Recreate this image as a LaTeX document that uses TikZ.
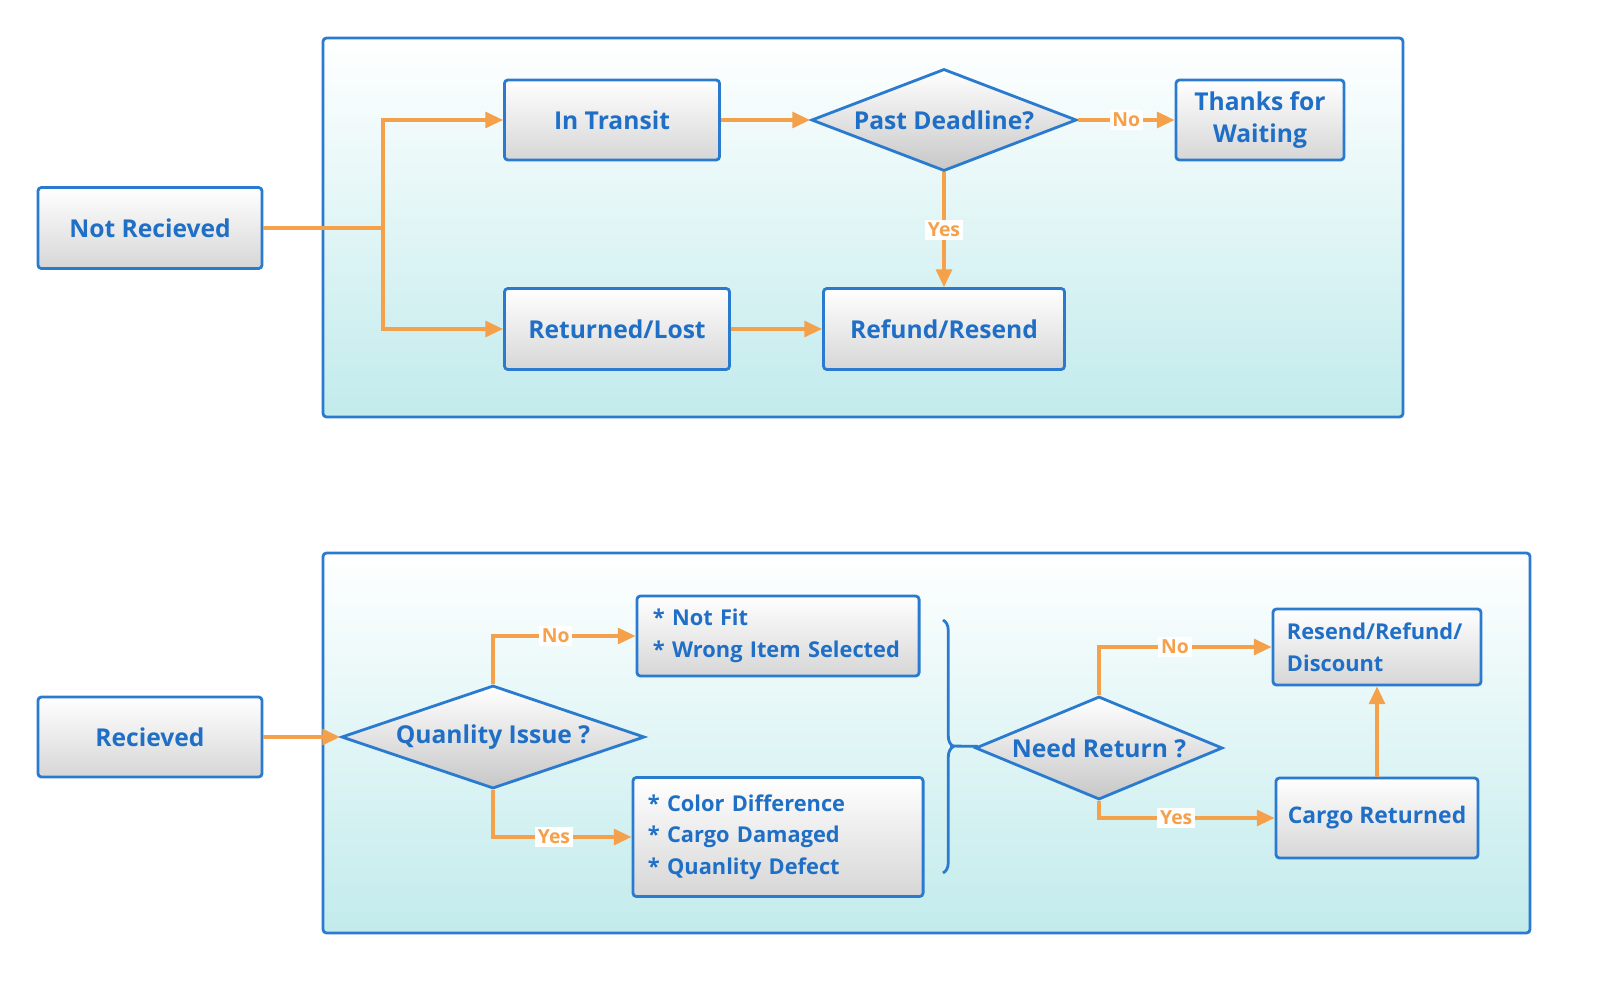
\documentclass[tikz,border=0pt]{standalone}
\usepackage{fontspec}
\setmainfont{Open Sans}
\usetikzlibrary{positioning,shapes.geometric,arrows.meta,decorations.pathreplacing}
\definecolor{txtblue}{HTML}{1F6FC6}
\definecolor{lineblue}{HTML}{2A7BD0}
\definecolor{arrorange}{HTML}{F5A04A}
\definecolor{panelcyan}{HTML}{C2EBEC}
\tikzset{
  panel/.style={draw=lineblue,line width=0.8pt,rounded corners=1pt,top color=white,bottom color=panelcyan},
  box/.style={draw=lineblue,line width=0.8pt,rounded corners=1pt,top color=white,bottom color=black!16,
    text=txtblue,font=\bfseries\fontsize{7}{9}\selectfont,align=center,inner sep=0pt},
  listbox/.style={box,align=left,font=\bfseries\fontsize{6.2}{9}\selectfont},
  decision/.style={diamond,draw=lineblue,line width=0.8pt,top color=white,bottom color=black!22,
    text=txtblue,font=\bfseries\fontsize{7}{9}\selectfont,inner sep=0pt,aspect=2.6},
  flow/.style={arrorange,line width=0.9pt,-{Triangle[length=5pt,width=4.5pt]}},
  lbl/.style={fill=white,text=arrorange,font=\bfseries\fontsize{5.5}{6}\selectfont,inner sep=0.8pt}
}
\begin{document}
\begin{tikzpicture}[x=0.01cm,y=-0.01cm]
  \useasboundingbox (0,0) rectangle (1600,991);
  % panels
  \draw[panel] (323,38) rectangle (1403,417);
  \draw[panel] (323,553) rectangle (1530,933);

  % not received branch
  \node[box,minimum width=2.24cm,minimum height=0.81cm] (notrec) at (150,228) {Not Recieved};
  \node[box,minimum width=2.15cm,minimum height=0.80cm] (transit) at (612,120) {In Transit};
  \node[decision,minimum width=2.65cm,minimum height=1.02cm] (deadline) at (944,120) {Past Deadline?};
  \node[box,minimum width=1.68cm,minimum height=0.80cm] (thanks) at (1260,120) {Thanks for\\Waiting};
  \node[box,minimum width=2.25cm,minimum height=0.81cm] (lost) at (617,329) {Returned/Lost};
  \node[box,minimum width=2.41cm,minimum height=0.81cm] (refund) at (944,329) {Refund/Resend};
  \coordinate (split) at (383,228);

  \draw[arrorange,line width=0.9pt] (notrec) -- (split);
  \draw[flow] (split) |- (transit);
  \draw[flow] (split) |- (lost);
  \draw[flow] (transit) -- (deadline);
  \draw[flow] (deadline) -- node[lbl] {No} (thanks);
  \draw[flow] (deadline) -- node[lbl] {Yes} (refund);
  \draw[flow] (lost) -- (refund);

  % received branch
  \node[box,minimum width=2.24cm,minimum height=0.80cm] (rec) at (150,737) {Recieved};
  \node[decision,minimum width=3.03cm,minimum height=1.03cm] (quality) at (493,737) {Quanlity Issue ?};
  \node[listbox,minimum width=2.82cm,minimum height=0.80cm,text width=2.5cm] (notfit) at (778,636)
    {* Not Fit\\{*} Wrong Item Selected};
  \node[listbox,minimum width=2.90cm,minimum height=1.19cm,text width=2.6cm] (defect) at (778,837)
    {* Color Difference\\{*} Cargo Damaged\\{*} Quanlity Defect};
  \node[decision,minimum width=2.47cm,minimum height=1.03cm] (needret) at (1099,748) {Need Return ?};
  \node[listbox,minimum width=2.08cm,minimum height=0.76cm,text width=1.8cm] (resend) at (1377,647)
    {Resend/Refund/\\Discount};
  \node[box,font=\bfseries\fontsize{6.5}{9}\selectfont,minimum width=2.02cm,minimum height=0.80cm] (cargo) at (1377,818) {Cargo Returned};
  \coordinate (bracetip) at (950,746);

  \draw[flow] (rec) -- (quality);
  \draw[flow] (quality.north) |- node[lbl,pos=0.72] {No} (notfit);
  \draw[flow] (quality.south) |- node[lbl,pos=0.72] {Yes} (defect);
  \draw[lineblue,line width=0.8pt,decorate,decoration={brace,amplitude=3pt,aspect=0.5}]
    (943,620) -- (943,873);
  \draw[lineblue,line width=0.8pt] (bracetip) -- (needret);
  \draw[flow] (needret.north) |- node[lbl,pos=0.72] {No} (resend);
  \draw[flow] (needret.south) |- node[lbl,pos=0.72] {Yes} (cargo);
  \draw[flow] (cargo) -- (resend);
\end{tikzpicture}
\end{document}
